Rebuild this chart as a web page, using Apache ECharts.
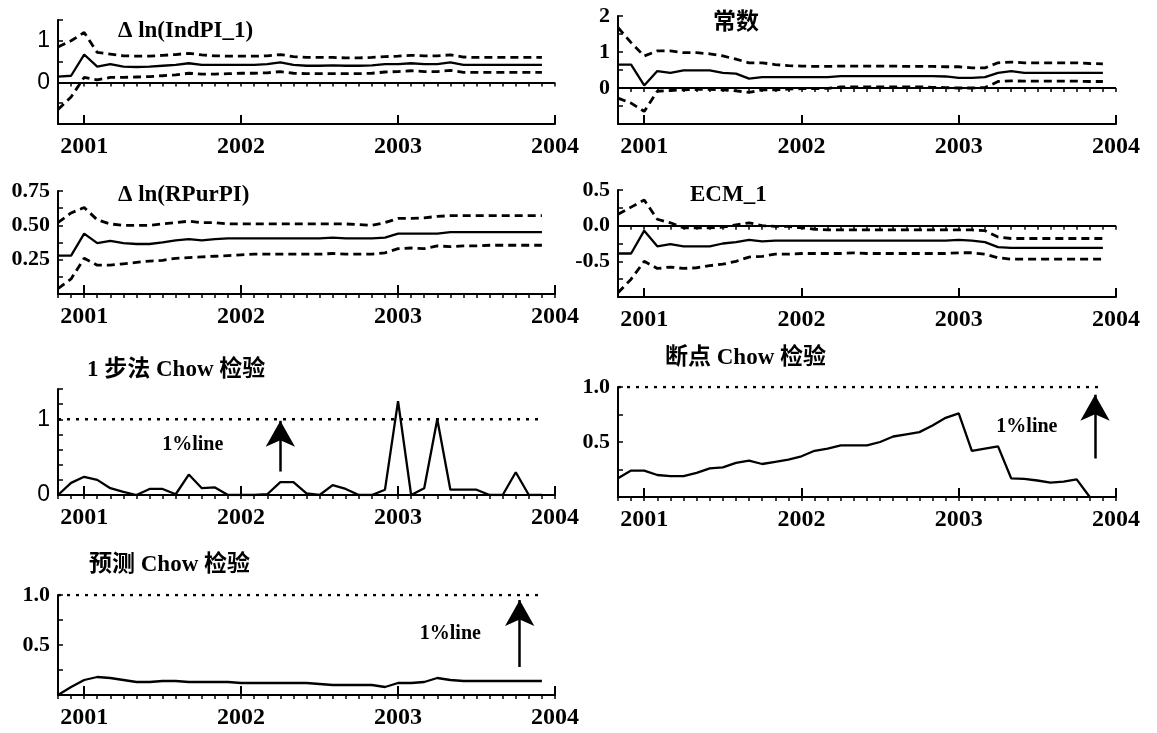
<!DOCTYPE html>
<html>
<head>
<meta charset="utf-8">
<script src="https://cdn.jsdelivr.net/npm/echarts@6/dist/echarts.min.js"></script>
<style>html,body{margin:0;padding:0;background:#fff}#c{width:1157px;height:733px}</style>
</head>
<body>
<div id="c"></div>
<script>
// Monthly observations, Nov 2000 .. Dec 2003
const months = ['2000-11','2000-12',
 '2001-01','2001-02','2001-03','2001-04','2001-05','2001-06','2001-07','2001-08','2001-09','2001-10','2001-11','2001-12',
 '2002-01','2002-02','2002-03','2002-04','2002-05','2002-06','2002-07','2002-08','2002-09','2002-10','2002-11','2002-12',
 '2003-01','2003-02','2003-03','2003-04','2003-05','2003-06','2003-07','2003-08','2003-09','2003-10','2003-11','2003-12'];
const yearLabels = ['2001','2002','2003','2004'];

// Δ ln(IndPI_1): recursive coefficient and ±2 S.E.
const indpiCoef = [0.14,0.16,0.67,0.38,0.44,0.38,0.37,0.38,0.40,0.42,0.46,0.42,0.42,0.42,0.42,0.42,0.44,0.48,0.42,0.40,0.40,0.41,0.40,0.40,0.41,0.44,0.44,0.46,0.44,0.44,0.48,0.42,0.42,0.42,0.42,0.42,0.42,0.42];
const indpiUp   = [0.85,1.00,1.20,0.72,0.68,0.64,0.63,0.63,0.65,0.67,0.70,0.66,0.64,0.63,0.63,0.63,0.64,0.67,0.62,0.60,0.60,0.60,0.59,0.59,0.60,0.62,0.63,0.65,0.64,0.64,0.66,0.61,0.60,0.60,0.60,0.60,0.60,0.60];
const indpiLo   = [-0.65,-0.35,0.12,0.06,0.12,0.12,0.13,0.14,0.16,0.18,0.22,0.20,0.20,0.21,0.22,0.22,0.23,0.26,0.22,0.21,0.21,0.21,0.21,0.21,0.22,0.25,0.26,0.28,0.26,0.26,0.29,0.24,0.24,0.24,0.24,0.24,0.24,0.24];

// 常数
const constCoef = [0.65,0.65,0.07,0.47,0.42,0.49,0.49,0.49,0.42,0.40,0.26,0.30,0.30,0.30,0.30,0.30,0.30,0.33,0.33,0.33,0.33,0.33,0.33,0.33,0.33,0.32,0.28,0.28,0.30,0.42,0.47,0.42,0.42,0.42,0.42,0.42,0.42,0.42];
const constUp   = [1.68,1.26,0.89,1.03,1.03,0.98,0.98,0.95,0.89,0.80,0.70,0.70,0.65,0.62,0.61,0.60,0.60,0.61,0.61,0.61,0.61,0.61,0.60,0.60,0.60,0.59,0.59,0.56,0.56,0.70,0.72,0.70,0.70,0.70,0.70,0.70,0.68,0.67];
const constLo   = [-0.28,-0.42,-0.65,-0.09,-0.07,-0.05,-0.04,-0.04,-0.05,-0.08,-0.12,-0.05,-0.05,-0.03,-0.02,-0.02,-0.01,0.03,0.03,0.03,0.03,0.03,0.03,0.03,0.02,0.01,0.00,0.00,0.01,0.18,0.20,0.19,0.19,0.19,0.19,0.19,0.18,0.18];

// Δ ln(RPurPI)
const rpurCoef = [0.28,0.28,0.44,0.37,0.386,0.37,0.364,0.364,0.376,0.39,0.40,0.39,0.40,0.405,0.405,0.405,0.405,0.405,0.405,0.405,0.405,0.41,0.405,0.405,0.405,0.41,0.44,0.44,0.44,0.44,0.45,0.45,0.45,0.45,0.45,0.45,0.45,0.45];
const rpurUp   = [0.52,0.59,0.63,0.54,0.51,0.50,0.50,0.50,0.51,0.52,0.53,0.52,0.52,0.51,0.51,0.51,0.51,0.51,0.51,0.51,0.51,0.51,0.51,0.505,0.50,0.52,0.55,0.55,0.555,0.565,0.57,0.57,0.57,0.57,0.57,0.57,0.57,0.57];
const rpurLo   = [0.04,0.11,0.26,0.21,0.21,0.22,0.23,0.24,0.245,0.26,0.265,0.27,0.275,0.28,0.285,0.29,0.29,0.29,0.29,0.29,0.29,0.295,0.29,0.29,0.29,0.30,0.33,0.335,0.33,0.35,0.345,0.35,0.35,0.355,0.355,0.355,0.355,0.355];

// ECM_1
const ecmCoef = [-0.39,-0.39,-0.07,-0.29,-0.26,-0.29,-0.29,-0.29,-0.25,-0.23,-0.20,-0.22,-0.21,-0.21,-0.21,-0.21,-0.21,-0.21,-0.21,-0.21,-0.21,-0.21,-0.21,-0.21,-0.21,-0.21,-0.20,-0.21,-0.23,-0.30,-0.31,-0.31,-0.31,-0.31,-0.31,-0.31,-0.31,-0.31];
const ecmUp   = [0.16,0.26,0.36,0.09,0.04,-0.03,-0.03,-0.03,-0.02,0.01,0.04,0.00,-0.01,-0.01,-0.03,-0.05,-0.06,-0.06,-0.06,-0.06,-0.06,-0.06,-0.06,-0.06,-0.06,-0.06,-0.06,-0.06,-0.07,-0.16,-0.18,-0.18,-0.18,-0.18,-0.18,-0.18,-0.18,-0.18];
const ecmLo   = [-0.94,-0.75,-0.50,-0.60,-0.58,-0.60,-0.59,-0.56,-0.54,-0.50,-0.44,-0.43,-0.40,-0.40,-0.39,-0.39,-0.39,-0.39,-0.38,-0.39,-0.39,-0.39,-0.39,-0.39,-0.39,-0.39,-0.38,-0.38,-0.40,-0.45,-0.47,-0.47,-0.47,-0.47,-0.47,-0.47,-0.47,-0.47];

// Chow tests (scaled by 1% critical value)
const chowOneStep  = [0,0.16,0.24,0.20,0.09,0.04,0,0.08,0.08,0.01,0.27,0.09,0.10,0,0,0,0.01,0.17,0.17,0.02,0,0.13,0.08,0,0,0.07,1.24,0,0.09,1.0,0.07,0.07,0.07,0,0,0.30,0,0];
const chowBreak    = [0.17,0.24,0.24,0.20,0.19,0.19,0.22,0.26,0.27,0.31,0.33,0.30,0.32,0.34,0.37,0.42,0.44,0.47,0.47,0.47,0.50,0.55,0.57,0.59,0.65,0.72,0.76,0.42,0.44,0.46,0.17,0.165,0.15,0.13,0.14,0.16,0.0];
const chowForecast = [0,0.08,0.15,0.18,0.17,0.15,0.13,0.13,0.14,0.14,0.13,0.13,0.13,0.13,0.12,0.12,0.12,0.12,0.12,0.12,0.11,0.10,0.10,0.10,0.10,0.08,0.12,0.12,0.13,0.17,0.15,0.14,0.14,0.14,0.14,0.14,0.14,0.14];

// annotations: [x (months since Jan 2001), y]
const critLevel = 1;
const arrow5 = [[15, 0.31], [15, 0.98]], text5 = [8.3, 0.66];
const arrow6 = [[34.4, 0.35], [34.4, 0.93]], text6 = [29.2, 0.64];
const arrow7 = [[33.3, 0.28], [33.3, 0.95]], text7 = [28, 0.61];

// ---------- build ----------
const SERIF = 'Liberation Serif, "Noto Sans CJK SC"';
const SANS = 'Liberation Sans';
const monthX = months.map((m) => { const [y, mo] = m.split('-').map(Number); return (y - 2001) * 12 + (mo - 1); });
const pts = arr => arr.map((v, i) => [monthX[i], v]);
const X0 = -2, X1 = 36;
const yearTicks = yearLabels.map(y => (Number(y) - 2001) * 12);
const monthTicks = []; for (let m = X0; m <= X1; m++) monthTicks.push(m);

const grids = [], xAxes = [], yAxes = [], series = [], titles = [];
function panel(g, y, list) {
  const k = grids.length;
  grids.push(Object.assign({ containLabel: false }, g));
  xAxes.push({
    type: 'value', gridIndex: k, min: X0, max: X1,
    axisLine: { show: true, onZero: false, lineStyle: { color: '#000', width: 2 } },
    axisTick: { show: true, inside: true, length: 9, customValues: yearTicks, lineStyle: { color: '#000', width: 2 } },
    axisLabel: { show: true, customValues: yearTicks, margin: 11, formatter: v => String(2001 + Math.round(v / 12)),
      fontFamily: SERIF, fontWeight: 'bold', fontSize: 24, color: '#000' },
    splitLine: { show: false }
  });
  xAxes.push({
    type: 'value', gridIndex: k, min: X0, max: X1,
    axisLine: { show: false },
    axisTick: { show: true, inside: true, length: 4, customValues: monthTicks, lineStyle: { color: '#000', width: 1.5 } },
    axisLabel: { show: false }, splitLine: { show: false }
  });
  yAxes.push({
    type: 'value', gridIndex: k, min: y.min, max: y.max, interval: y.interval,
    axisLine: { show: true, onZero: false, lineStyle: { color: '#000', width: 2 } },
    axisTick: { show: true, inside: true, length: 5, lineStyle: { color: '#000', width: 1.5 } },
    axisLabel: { show: true, customValues: y.labels, margin: 8, formatter: v => v.toFixed(y.dec),
      fontFamily: y.sans ? SANS : SERIF, fontWeight: y.sans ? 'normal' : 'bold', fontSize: y.sans ? 23 : 22, color: '#000' },
    splitLine: { show: false }
  });
  list.forEach(s => series.push(Object.assign({ xAxisIndex: 2 * k, yAxisIndex: k, animation: false, silent: true }, s)));
}
const solid = (data) => ({ type: 'line', data: pts(data), symbol: 'none', lineStyle: { color: '#000', width: 2.3 } });
const dashed = (data) => ({ type: 'line', data: pts(data), symbol: 'none', lineStyle: { color: '#000', width: 2.8, type: [8, 5] } });
const zeroLine = { type: 'line', data: [], markLine: { silent: true, symbol: 'none', label: { show: false },
  lineStyle: { color: '#000', width: 2, type: 'solid' }, data: [{ yAxis: 0 }] } };
const critLine = (n) => ({ type: 'line', data: [[monthX[0], critLevel], [monthX[n - 1], critLevel]], symbol: 'none',
  lineStyle: { color: '#000', width: 2.5, type: [3, 6] } });
const arrowMark = (a) => ({ type: 'line', data: [], markLine: { silent: true, symbol: ['none', 'arrow'], symbolSize: [22, 26],
  label: { show: false }, lineStyle: { color: '#000', width: 2.5, type: 'solid' },
  data: [[{ coord: a[0] }, { coord: a[1] }]] } });
const lineText = (p) => ({ type: 'scatter', data: [p], symbolSize: 1,
  itemStyle: { color: 'rgba(255,255,255,0)', opacity: 1 },
  label: { show: true, position: 'inside', formatter: '1%line', fontFamily: SERIF, fontWeight: 'bold', fontSize: 20,
    color: '#000', opacity: 1, textBorderWidth: 0, textBorderColor: 'transparent' } });

panel({ left: 58, top: 20, width: 497, height: 104 }, { min: -1, max: 1.5, interval: 0.5, labels: [0, 1], dec: 0, sans: true },
  [zeroLine, dashed(indpiUp), dashed(indpiLo), solid(indpiCoef)]);
panel({ left: 618, top: 16, width: 498, height: 108 }, { min: -1, max: 2, interval: 0.5, labels: [0, 1, 2], dec: 0 },
  [zeroLine, dashed(constUp), dashed(constLo), solid(constCoef)]);
panel({ left: 58, top: 191, width: 497, height: 103 }, { min: 0, max: 0.75, interval: 0.125, labels: [0.25, 0.5, 0.75], dec: 2 },
  [dashed(rpurUp), dashed(rpurLo), solid(rpurCoef)]);
panel({ left: 618, top: 190, width: 498, height: 107 }, { min: -1, max: 0.5, interval: 0.25, labels: [-0.5, 0, 0.5], dec: 1 },
  [zeroLine, dashed(ecmUp), dashed(ecmLo), solid(ecmCoef)]);
panel({ left: 58, top: 389, width: 497, height: 106 }, { min: 0, max: 1.4, interval: 0.2, labels: [0, 1], dec: 0, sans: true },
  [critLine(months.length), solid(chowOneStep), arrowMark(arrow5), lineText(text5)]);
panel({ left: 618, top: 387, width: 498, height: 110 }, { min: 0, max: 1, interval: 0.25, labels: [0.5, 1], dec: 1 },
  [critLine(months.length), solid(chowBreak), arrowMark(arrow6), lineText(text6)]);
panel({ left: 58, top: 595, width: 497, height: 100 }, { min: 0, max: 1, interval: 0.25, labels: [0.5, 1], dec: 1 },
  [critLine(months.length), solid(chowForecast), arrowMark(arrow7), lineText(text7)]);

const T = (text, left, top, size) => ({ text, left, top, padding: 0,
  textStyle: { fontFamily: SERIF, fontWeight: 'bold', fontSize: size || 23, color: '#000' } });
titles.push(T('Δ ln(IndPI_1)', 118, 20));
titles.push(T('常数', 713, 12));
titles.push(T('Δ ln(RPurPI)', 118, 184));
titles.push(T('ECM_1', 690, 184));
titles.push(T('1 步法 Chow 检验', 87, 359));
titles.push(T('断点 Chow 检验', 665, 347));
titles.push(T('预测 Chow 检验', 89, 554));

const chart = echarts.init(document.getElementById('c'), null, { renderer: 'canvas' });
chart.setOption({ animation: false, backgroundColor: '#fff', title: titles, grid: grids, xAxis: xAxes, yAxis: yAxes, series });
</script>
</body>
</html>
